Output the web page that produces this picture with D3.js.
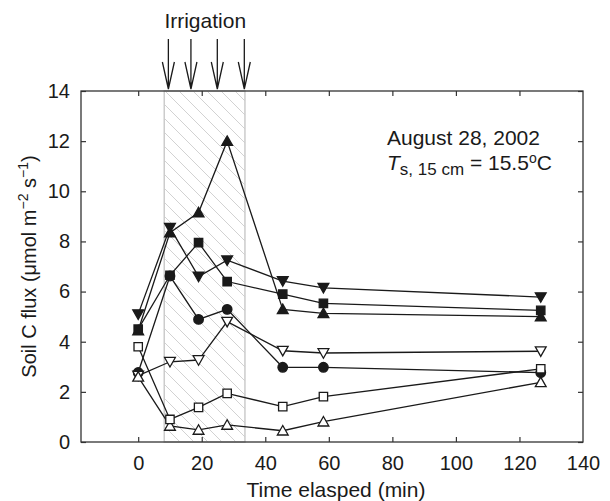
<!DOCTYPE html>
<html>
<head>
<meta charset="utf-8">
<script src="https://cdn.jsdelivr.net/npm/d3@7"></script>
<style>
  body { margin: 0; background: #fff; }
  svg { font-family: "Liberation Sans", Arial, Helvetica, sans-serif; }
</style>
</head>
<body>
<div id="chart"></div>
<script>
// time of each sampling (min)
const times = [0, 10, 19, 28, 45.5, 58.3, 126.7];

// soil C flux per chamber (umol m-2 s-1)
const filledDown   = [5.1, 8.55, 6.6, 7.25, 6.42, 6.15, 5.78];
const filledUp     = [4.45, 8.35, 9.15, 12.0, 5.29, 5.13, 5.0];
const filledSquare = [4.5, 6.65, 7.95, 6.4, 5.9, 5.53, 5.25];
const filledCircle = [2.77, 6.62, 4.89, 5.29, 2.98, 2.98, 2.77];
const openDown     = [2.65, 3.2, 3.27, 4.8, 3.64, 3.55, 3.62];
const openSquare   = [3.8, 0.9, 1.38, 1.94, 1.41, 1.81, 2.92];
const openUp       = [2.6, 0.64, 0.48, 0.68, 0.45, 0.81, 2.38];

// irrigation window and water additions (min)
const irrigationWindow = [8.2, 33.6];
const irrigationTimes = [9.5, 16.6, 24.9, 33.4];

const xTicks = [0, 20, 40, 60, 80, 100, 120, 140];
const yTicks = [0, 2, 4, 6, 8, 10, 12, 14];

const series = [
  {values: filledUp, shape: "up", filled: true},
  {values: filledCircle, shape: "circle", filled: true},
  {values: filledSquare, shape: "square", filled: true},
  {values: filledDown, shape: "down", filled: true},
  {values: openDown, shape: "down", filled: false},
  {values: openUp, shape: "up", filled: false},
  {values: openSquare, shape: "square", filled: false}
];

const W = 610, H = 501;
const margin = {top: 91, right: 27, bottom: 59, left: 81};
const width = W - margin.left - margin.right;
const height = H - margin.top - margin.bottom;
const ink = "#1a1a1a";

const svg = d3.select("#chart").append("svg")
  .attr("width", W)
  .attr("height", H);

const defs = svg.append("defs");
const pat = defs.append("pattern")
  .attr("id", "hatch")
  .attr("patternUnits", "userSpaceOnUse")
  .attr("width", 14)
  .attr("height", 14);
pat.append("path")
  .attr("d", "M0,0L14,14M-2,12L2,16M12,-2L16,2")
  .attr("stroke", "#d2d2d2")
  .attr("stroke-width", 1);

const g = svg.append("g")
  .attr("transform", "translate(" + margin.left + "," + margin.top + ")");

const x = d3.scaleLinear().domain([-18, 140]).range([0, width]);
const y = d3.scaleLinear().domain([0, 14]).range([height, 0]);

// hatched irrigation period
g.append("rect")
  .attr("x", x(irrigationWindow[0]))
  .attr("y", 0)
  .attr("width", x(irrigationWindow[1]) - x(irrigationWindow[0]))
  .attr("height", height)
  .attr("fill", "url(#hatch)")
  .attr("stroke", "#cccccc")
  .attr("stroke-width", 1.5);

// axes, ticks pointing inward
const xb = g.append("g")
  .attr("transform", "translate(0," + height + ")")
  .call(d3.axisBottom(x).tickValues(xTicks).tickSize(-5).tickSizeOuter(0).tickPadding(14));
const xt = g.append("g")
  .call(d3.axisTop(x).tickValues(xTicks).tickSize(-5).tickSizeOuter(0).tickFormat(""));
const yl = g.append("g")
  .call(d3.axisLeft(y).tickValues(yTicks).tickSize(-5).tickSizeOuter(0).tickPadding(11));
const yr = g.append("g")
  .attr("transform", "translate(" + width + ",0)")
  .call(d3.axisRight(y).tickValues(yTicks).tickSize(-5).tickSizeOuter(0).tickFormat(""));

[xb, xt, yl, yr].forEach(a => {
  a.select(".domain").remove();
  a.selectAll("line").attr("stroke", "#333").attr("stroke-width", 1.2);
  a.selectAll("text").attr("fill", ink).style("font-size", "20px")
    .style("font-family", "'Liberation Sans', Arial, sans-serif");
});
// 140 sits on the frame, no tick mark there
xb.selectAll(".tick").filter(d => d === 140).select("line").remove();
xt.selectAll(".tick").filter(d => d === 140).select("line").remove();

g.append("rect")
  .attr("width", width)
  .attr("height", height)
  .attr("fill", "none")
  .attr("stroke", "#333")
  .attr("stroke-width", 1.3);

// lines
const line = d3.line()
  .x((d, i) => x(times[i]))
  .y(d => y(d));

series.forEach(s => {
  g.append("path")
    .datum(s.values)
    .attr("fill", "none")
    .attr("stroke", ink)
    .attr("stroke-width", 1.3)
    .attr("d", line);
});

// markers
function shapePath(shape) {
  if (shape === "square") return d3.symbol(d3.symbolSquare, 70)();
  if (shape === "circle") return d3.symbol(d3.symbolCircle, 72)();
  if (shape === "up") return "M0,-5.2L5.4,4.3L-5.4,4.3Z";
  return "M0,5.2L5.4,-4.3L-5.4,-4.3Z";
}

series.forEach(s => {
  g.append("g").selectAll("path")
    .data(s.values)
    .join("path")
    .attr("transform", (d, i) => "translate(" + x(times[i]) + "," + y(d) + ")")
    .attr("d", shapePath(s.shape))
    .attr("fill", s.filled ? ink : "#fff")
    .attr("stroke", ink)
    .attr("stroke-width", 1.3);
});

// irrigation arrows above the frame
const arrows = svg.append("g").attr("transform", "translate(" + margin.left + ",0)");
irrigationTimes.forEach(t => {
  const ax = x(t);
  arrows.append("path")
    .attr("d", "M" + ax + ",39V89M" + (ax - 6) + ",62L" + ax + ",89L" + (ax + 6) + ",62")
    .attr("fill", "none")
    .attr("stroke", ink)
    .attr("stroke-width", 1.3);
});
arrows.append("text")
  .attr("x", x(d3.mean(irrigationTimes)))
  .attr("y", 28)
  .attr("text-anchor", "middle")
  .style("font-size", "21px")
  .attr("fill", ink)
  .text("Irrigation");

// annotation
const ann = svg.append("g").attr("fill", ink);
ann.append("text")
  .attr("x", 387).attr("y", 145)
  .style("font-size", "21px")
  .text("August 28, 2002");
const t2 = ann.append("text")
  .attr("x", 387).attr("y", 170)
  .style("font-size", "21px");
t2.append("tspan").style("font-style", "italic").text("T");
t2.append("tspan").attr("dy", 5).style("font-size", "17px").text("s, 15 cm");
t2.append("tspan").attr("dy", -5).text(" = 15.5");
t2.append("tspan").attr("dy", -7).style("font-size", "14px").text("o");
t2.append("tspan").attr("dy", 7).text("C");

// axis titles
svg.append("text")
  .attr("x", margin.left + width / 2 + 4)
  .attr("y", 497)
  .attr("text-anchor", "middle")
  .style("font-size", "21px")
  .attr("fill", ink)
  .text("Time elasped (min)");

const yt = svg.append("text")
  .attr("transform", "translate(36," + (margin.top + height / 2) + ") rotate(-90)")
  .attr("text-anchor", "middle")
  .style("font-size", "20px")
  .attr("fill", ink);
yt.append("tspan").text("Soil C flux  (\u03bcmol m");
yt.append("tspan").attr("dy", -8).style("font-size", "14px").text("\u22122");
yt.append("tspan").attr("dy", 8).text(" s");
yt.append("tspan").attr("dy", -8).style("font-size", "14px").text("\u22121");
yt.append("tspan").attr("dy", 8).text(")");
</script>
</body>
</html>
